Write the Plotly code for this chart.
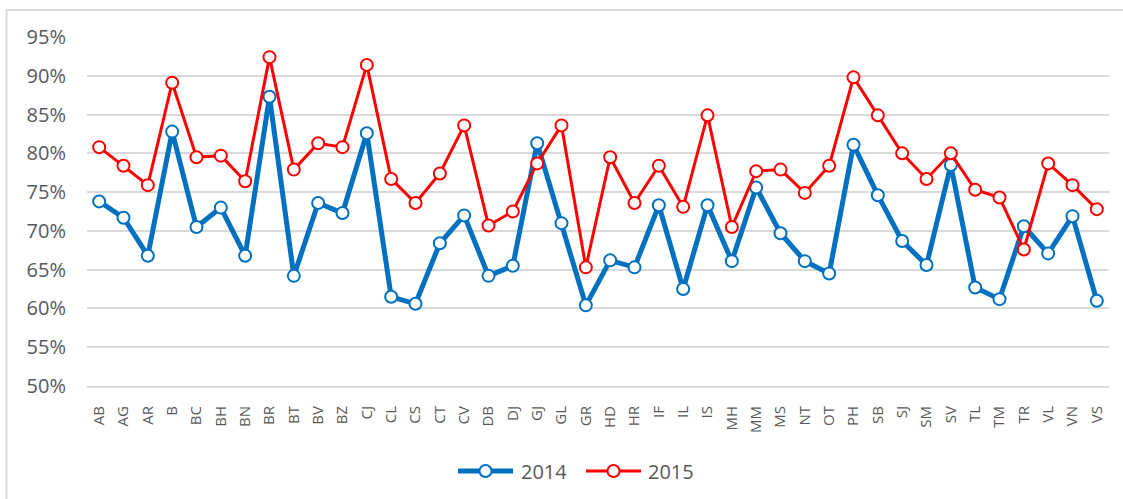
import plotly.graph_objects as go

# Region codes along the x axis
regions = ["AB", "AG", "AR", "B", "BC", "BH", "BN", "BR", "BT", "BV", "BZ", "CJ",
           "CL", "CS", "CT", "CV", "DB", "DJ", "GJ", "GL", "GR", "HD", "HR", "IF",
           "IL", "IS", "MH", "MM", "MS", "NT", "OT", "PH", "SB", "SJ", "SM", "SV",
           "TL", "TM", "TR", "VL", "VN", "VS"]

# Rates per region, in percent
rate_2014 = [73.8, 71.7, 66.8, 82.8, 70.5, 73.0, 66.8, 87.3, 64.2, 73.6, 72.3, 82.6,
             61.5, 60.6, 68.4, 72.0, 64.2, 65.5, 81.3, 71.0, 60.4, 66.2, 65.3, 73.3,
             62.5, 73.3, 66.1, 75.6, 69.7, 66.1, 64.5, 81.1, 74.6, 68.7, 65.6, 78.5,
             62.7, 61.2, 70.6, 67.1, 71.9, 61.0]
rate_2015 = [80.8, 78.4, 75.9, 89.1, 79.5, 79.7, 76.4, 92.4, 77.9, 81.3, 80.8, 91.4,
             76.7, 73.6, 77.4, 83.6, 70.7, 72.5, 78.7, 83.6, 65.3, 79.5, 73.6, 78.4,
             73.1, 84.9, 70.5, 77.7, 77.9, 74.9, 78.4, 89.8, 84.9, 80.0, 76.7, 80.0,
             75.3, 74.3, 67.6, 78.7, 75.9, 72.8]

# Y axis ticks
y_ticks = [50, 55, 60, 65, 70, 75, 80, 85, 90, 95]
y_tick_text = [f"{v}%" for v in y_ticks]

series = [
    ("2014", rate_2014, "#0070C0", 5, 12),
    ("2015", rate_2015, "#FF0000", 3, 12),
]

FONT = "Open Sans"
GREY = "#595959"
GRID = "#D9D9D9"

fig = go.Figure()
for name, values, color, lw, msize in series:
    fig.add_trace(go.Scatter(
        x=regions, y=values, name=name, mode="lines+markers",
        line=dict(color=color, width=lw),
        marker=dict(symbol="circle", size=msize, color="white",
                    line=dict(color=color, width=2)),
        showlegend=False,
    ))

# Plot area spans x 87..1109 px and y 37..386 px
L, R, T, B = 87, 14, 37, 113
W, H = 1123, 499
pw, ph = W - L - R, H - T - B


def px_x(x):
    return (x - L) / pw


def px_y(y):
    return (H - B - y) / ph


shapes = [
    # outer chart border
    dict(type="rect", xref="paper", yref="paper",
         x0=px_x(6.5), x1=px_x(W + 20), y0=px_y(H + 20), y1=px_y(10),
         line=dict(color=GRID, width=2), fillcolor="rgba(0,0,0,0)", layer="below"),
]
annotations = []

# Legend drawn below the plot: line segment, hollow marker, label
legend_y = px_y(471)
legend_items = [("2014", "#0070C0", 5, 458, 513, 519),
                ("2015", "#FF0000", 3, 586, 641, 646)]
for name, color, lw, x0, x1, tx in legend_items:
    shapes.append(dict(type="line", xref="paper", yref="paper",
                       x0=px_x(x0), x1=px_x(x1), y0=legend_y, y1=legend_y,
                       line=dict(color=color, width=lw)))
    shapes.append(dict(type="circle", xref="paper", yref="paper",
                       xsizemode="pixel", ysizemode="pixel",
                       xanchor=px_x((x0 + x1) / 2), yanchor=legend_y,
                       x0=-6, x1=6, y0=-6, y1=6,
                       fillcolor="white", line=dict(color=color, width=2)))
    annotations.append(dict(xref="paper", yref="paper", x=px_x(tx), y=legend_y,
                            text=name, showarrow=False, xanchor="left",
                            yanchor="middle",
                            font=dict(family=FONT, size=20, color=GREY)))

fig.update_layout(
    width=W, height=H,
    margin=dict(l=L, r=R, t=T, b=B),
    paper_bgcolor="white", plot_bgcolor="white",
    font=dict(family=FONT, color=GREY),
    shapes=shapes, annotations=annotations,
    xaxis=dict(
        range=[-0.5, len(regions) - 0.5],
        tickangle=-90, tickfont=dict(family=FONT, size=15, color=GREY),
        showgrid=False, showline=True, linecolor=GRID, linewidth=2,
        ticks="", ticklabelstandoff=12, zeroline=False,
    ),
    yaxis=dict(
        range=[50, 95], tickvals=y_ticks, ticktext=y_tick_text,
        tickfont=dict(family=FONT, size=20, color=GREY),
        showgrid=True, gridcolor=GRID, gridwidth=2,
        zeroline=False, showline=False, ticks="", ticklabelstandoff=20,
    ),
)

fig.write_html("out.html")
